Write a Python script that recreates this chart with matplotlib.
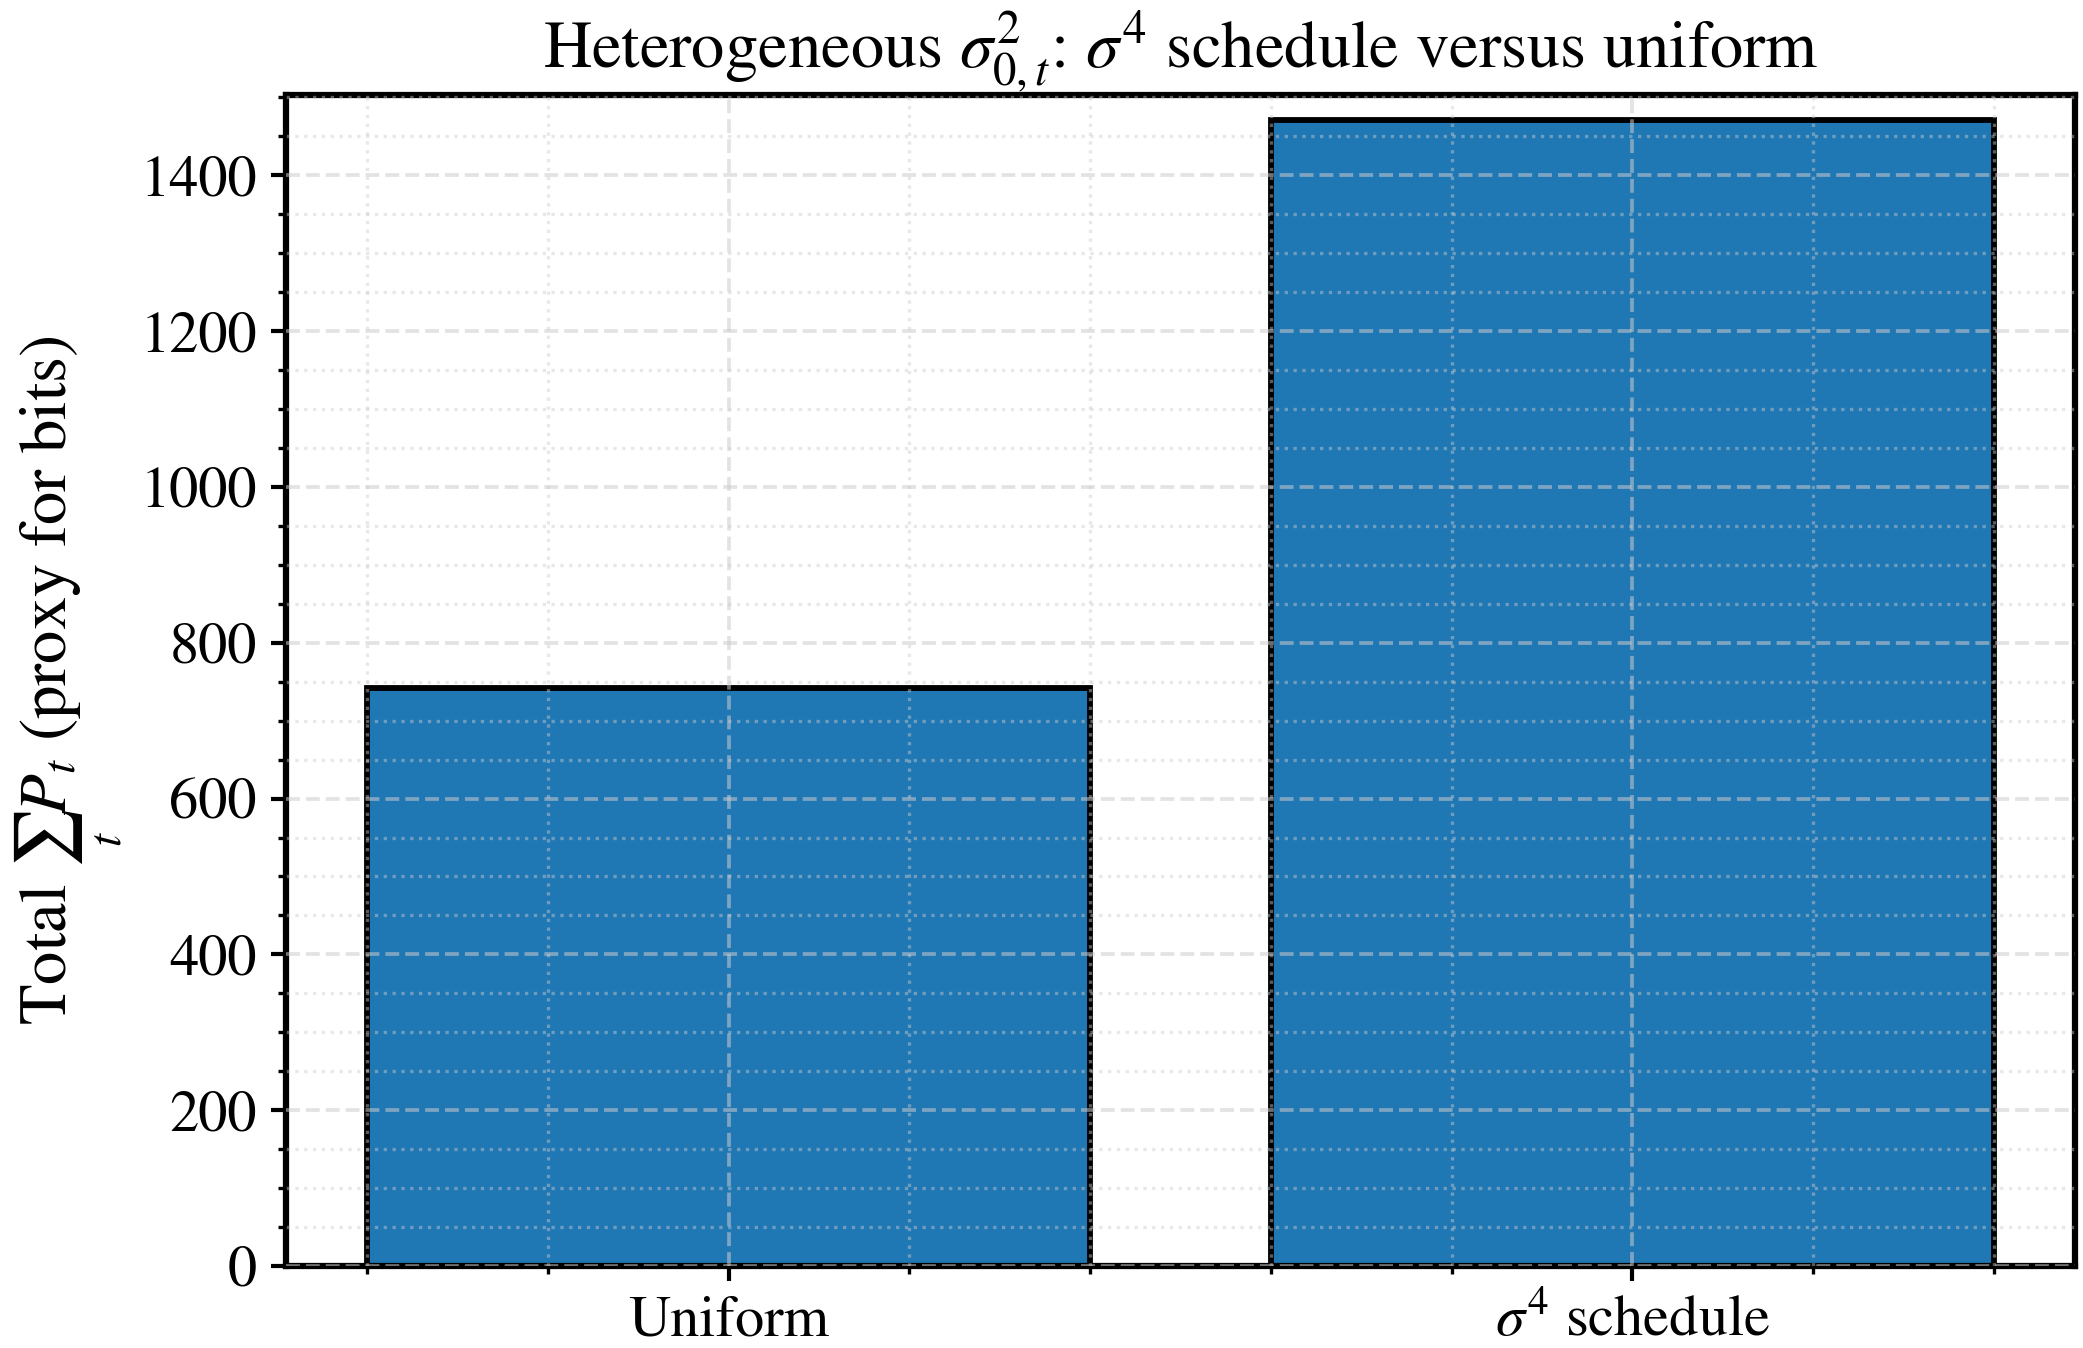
import matplotlib
matplotlib.use("Agg")
import matplotlib.pyplot as plt
from matplotlib.ticker import MultipleLocator, AutoMinorLocator

categories = ["Uniform", r"$\sigma^4$ schedule"]
totals = [742, 1471]

plt.rcParams['font.family'] = ['STIXGeneral', 'DejaVu Serif']
plt.rcParams['mathtext.fontset'] = 'stix'
plt.rcParams['font.size'] = 14

fig = plt.figure(figsize=(2083/300, 1348/300), dpi=300)
ax = fig.add_axes([0.1373, 0.0608, 0.8589, 0.8687])

x = list(range(len(categories)))
ax.bar(x, totals, width=0.8, color='#1f77b4', edgecolor='black', linewidth=1.4, zorder=1)

ax.set_xticks(x)
ax.set_xticklabels(categories)
ax.set_ylim(0, 1503)
ax.yaxis.set_major_locator(MultipleLocator(200))
ax.yaxis.set_minor_locator(AutoMinorLocator(4))
ax.xaxis.set_minor_locator(AutoMinorLocator(5))

ax.set_axisbelow(False)
ax.grid(which='major', linestyle='--', color='#cccccc', alpha=0.55, linewidth=0.9, zorder=2)
ax.grid(which='minor', linestyle=':', color='#cccccc', alpha=0.45, linewidth=0.8, zorder=2)

for s in ax.spines.values():
    s.set_linewidth(1.5)
ax.tick_params(which='major', direction='out', length=3.5, width=1.0, labelsize=14)
ax.tick_params(which='minor', direction='out', length=2.0, width=0.8)

ax.set_ylabel(r"Total $\sum_t P_t$ (proxy for bits)", fontsize=16, labelpad=4)
ax.set_title(r"Heterogeneous $\sigma^2_{0,t}$: $\sigma^4$ schedule versus uniform", fontsize=16, pad=6)

fig.savefig("out.png", dpi=300)
